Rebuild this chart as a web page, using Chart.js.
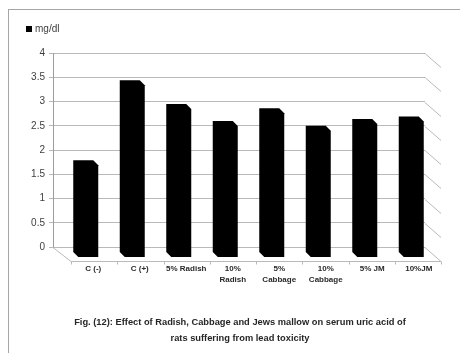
<!DOCTYPE html>
<html>
<head>
<meta charset="utf-8">
<script src="https://cdn.jsdelivr.net/npm/chart.js@4.4.0/dist/chart.umd.min.js"></script>
<style>
  html, body { margin: 0; padding: 0; background: #fff; }
  #wrap { position: relative; width: 460px; height: 353px; overflow: hidden; }
  #frame { position: absolute; left: 8px; top: 9px; width: 480px; height: 400px; border: 1px solid #a6a6a6; }
  #c { position: absolute; left: 0; top: 0; }
  #caption {
    position: absolute; left: 40px; width: 400px; top: 315px;
    text-align: center; font: bold 9.3px "Liberation Sans", sans-serif;
    color: #262626; line-height: 15.5px;
  }
</style>
</head>
<body>
<div id="wrap">
  <div id="frame"></div>
  <canvas id="c" width="460" height="353" style="width:460px;height:353px"></canvas>
  <div id="caption">Fig. (12): Effect of Radish, Cabbage and Jews mallow on serum uric acid of<br>rats suffering from lead toxicity</div>
</div>
<script>
// Treatment groups and serum uric acid (mg/dl)
const categories = [['C (-)'], ['C (+)'], ['5% Radish'], ['10%', 'Radish'], ['5%', 'Cabbage'], ['10%', 'Cabbage'], ['5% JM'], ['10%JM']];
const uricAcid = [1.79, 3.44, 2.95, 2.60, 2.86, 2.50, 2.64, 2.69];
const yTicks = [0, 0.5, 1, 1.5, 2, 2.5, 3, 3.5, 4];
const yTickLabels = ['0', '0.5', '1', '1.5', '2', '2.5', '3', '3.5', '4'];
const seriesName = 'mg/dl';

const GRID = '#b9b9b9';
const AXIS = '#9c9c9c';
const TEXT = '#404040';
const WALL_DX = 16, WALL_DY = 14;   // depth of the floor / side wall
const BAR_SHIFT = 7, BAR_SINK = 5, BAR_DEPTH = 5;

// Floor, side-wall diagonals and category ticks of the pseudo-3D frame
const frame3d = {
  id: 'frame3d',
  beforeDatasetsDraw(chart) {
    const { ctx, chartArea: a, scales } = chart;
    const y0 = Math.round(scales.y.getPixelForValue(0)) + 0.5;
    const frontY = y0 + WALL_DY;
    const L = a.left, R = a.right;
    const front = x => x + 18 - (18 - WALL_DX) * (x - L) / (R - L);
    ctx.save();
    ctx.strokeStyle = GRID;
    ctx.lineWidth = 1;
    ctx.beginPath();
    // side wall diagonals at each value tick
    yTicks.forEach(v => {
      const y = Math.round(scales.y.getPixelForValue(v)) + 0.5;
      ctx.moveTo(R, y);
      ctx.lineTo(R + WALL_DX, y + WALL_DY);
    });
    // floor outline
    ctx.moveTo(L, y0);
    ctx.lineTo(front(L), frontY);
    ctx.lineTo(front(R), frontY);
    // category ticks on the floor front edge
    const n = categories.length;
    for (let i = 0; i <= n; i++) {
      const x = Math.round(front(L + (R - L) * i / n)) + 0.5;
      ctx.moveTo(x, frontY);
      ctx.lineTo(x, frontY + 3);
    }
    ctx.stroke();
    ctx.restore();
  }
};

// Bars drawn as solid prisms standing on the floor
const prismBars = {
  id: 'prismBars',
  beforeDatasetDraw(chart, args) {
    const { ctx, scales } = chart;
    const y0 = scales.y.getPixelForValue(0);
    ctx.save();
    ctx.fillStyle = chart.data.datasets[args.index].backgroundColor;
    args.meta.data.forEach(bar => {
      const { x, y, width } = bar.getProps(['x', 'y', 'width'], true);
      const l = x - width / 2 + BAR_SHIFT, r = l + width;
      ctx.beginPath();
      ctx.moveTo(l, y);
      ctx.lineTo(r, y);
      ctx.lineTo(r + BAR_DEPTH, y + BAR_DEPTH);
      ctx.lineTo(r + BAR_DEPTH, y0 + BAR_SINK + BAR_DEPTH);
      ctx.lineTo(l + BAR_DEPTH, y0 + BAR_SINK + BAR_DEPTH);
      ctx.lineTo(l, y0 + BAR_SINK);
      ctx.closePath();
      ctx.fill();
    });
    ctx.restore();
    return false;
  }
};

// Single-entry legend in the top-left corner
const cornerLegend = {
  id: 'cornerLegend',
  afterDraw(chart) {
    const ctx = chart.ctx;
    const ds = chart.data.datasets[0];
    ctx.save();
    ctx.fillStyle = ds.backgroundColor;
    ctx.fillRect(26, 26, 6, 6);
    ctx.fillStyle = TEXT;
    ctx.font = '10px "Liberation Sans", sans-serif';
    ctx.textBaseline = 'middle';
    ctx.fillText(ds.label, 35, 29);
    ctx.restore();
  }
};

new Chart(document.getElementById('c'), {
  type: 'bar',
  data: {
    labels: categories,
    datasets: [{
      label: seriesName,
      data: uricAcid,
      backgroundColor: '#000000',
      categoryPercentage: 1,
      barPercentage: 0.43
    }]
  },
  options: {
    responsive: false,
    animation: false,
    devicePixelRatio: 1,
    layout: { padding: { left: 0, right: 35, top: 53, bottom: 0 } },
    plugins: { legend: { display: false }, tooltip: { enabled: false } },
    scales: {
      x: {
        grid: { display: false, drawTicks: false },
        border: { display: false },
        ticks: {
          color: '#2a2a2a',
          font: { family: '"Liberation Sans", sans-serif', size: 8, weight: 'bold', lineHeight: 1.4 },
          padding: 16,
          labelOffset: 17,
          maxRotation: 0,
          autoSkip: false
        },
        afterFit(s) { s.height = 106; }
      },
      y: {
        min: 0,
        max: 4,
        afterBuildTicks(s) { s.ticks = yTicks.map(v => ({ value: v })); },
        grid: { color: GRID, tickLength: 4 },
        border: { color: AXIS },
        ticks: {
          color: TEXT,
          padding: 4,
          font: { family: '"Liberation Sans", sans-serif', size: 10 },
          callback: (v, i) => yTickLabels[i]
        },
        afterFit(s) { s.width = 53; }
      }
    }
  },
  plugins: [frame3d, prismBars, cornerLegend]
});
</script>
</body>
</html>
